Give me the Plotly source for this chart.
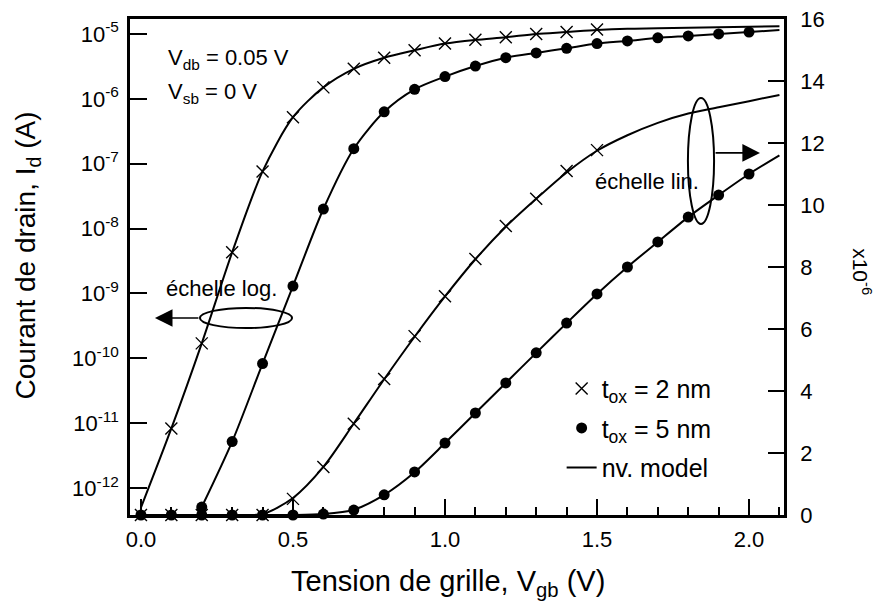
import plotly.graph_objects as go

# ---------------- data ----------------
# gate voltage (V)
vg_tox2_log = [0.1, 0.2, 0.3, 0.4, 0.5, 0.6, 0.7, 0.8, 0.9, 1.0, 1.1, 1.2, 1.3, 1.4, 1.5]
id_tox2_log = [8.3e-12, 1.7e-10, 4.3e-9, 7.6e-8, 5.2e-7, 1.5e-6, 2.9e-6, 4.3e-6, 5.6e-6,
               7.1e-6, 8.1e-6, 8.9e-6, 1.0e-5, 1.07e-5, 1.17e-5]

vg_tox5_log = [0.2, 0.3, 0.4, 0.5, 0.6, 0.7, 0.8, 0.9, 1.0, 1.1, 1.2, 1.3, 1.4, 1.5,
               1.6, 1.7, 1.8, 1.9, 2.0]
id_tox5_log = [5.1e-13, 5.2e-12, 8.3e-11, 1.3e-9, 2.0e-8, 1.7e-7, 6.3e-7, 1.4e-6, 2.2e-6,
               3.2e-6, 4.3e-6, 5.1e-6, 6.0e-6, 7.1e-6, 7.8e-6, 8.7e-6, 9.3e-6, 1.0e-5, 1.07e-5]

# linear scale, units of 1e-6 A
vg_tox2_lin = [0.0, 0.1, 0.2, 0.3, 0.4, 0.5, 0.6, 0.7, 0.8, 0.9, 1.0, 1.1, 1.2, 1.3, 1.4, 1.5]
id_tox2_lin = [0, 0, 0, 0, 0, 0.52, 1.55, 2.94, 4.39, 5.77, 7.06, 8.26, 9.32, 10.2, 11.1, 11.77]

vg_tox5_lin = [0.0, 0.1, 0.2, 0.3, 0.4, 0.5, 0.6, 0.7, 0.8, 0.9, 1.0, 1.1, 1.2, 1.3, 1.4,
               1.5, 1.6, 1.7, 1.8, 1.9, 2.0]
id_tox5_lin = [0, 0, 0, 0, 0, 0, 0.03, 0.16, 0.65, 1.39, 2.32, 3.29, 4.26, 5.23, 6.19,
               7.13, 8.0, 8.81, 9.61, 10.32, 11.0]

# new model curves
vg_model = [0.0, 0.1, 0.2, 0.3, 0.4, 0.5, 0.6, 0.7, 0.8, 0.9, 1.0, 1.1, 1.2, 1.3, 1.4,
            1.5, 1.6, 1.7, 1.8, 1.9, 2.0, 2.1]
model_tox2_log = [5.0e-13, 8.3e-12, 1.7e-10, 4.3e-9, 7.6e-8, 5.2e-7, 1.5e-6, 2.9e-6, 4.3e-6,
                  5.6e-6, 7.1e-6, 8.1e-6, 8.9e-6, 1.0e-5, 1.07e-5, 1.15e-5, 1.2e-5, 1.22e-5,
                  1.25e-5, 1.27e-5, 1.29e-5, 1.31e-5]
vg_model5_log = [0.2, 0.3, 0.4, 0.5, 0.6, 0.7, 0.8, 0.9, 1.0, 1.1, 1.2, 1.3, 1.4,
                 1.5, 1.6, 1.7, 1.8, 1.9, 2.0, 2.1]
model_tox5_log = [5.1e-13, 5.2e-12, 8.3e-11, 1.3e-9, 2.0e-8, 1.7e-7, 6.3e-7, 1.4e-6, 2.2e-6,
                  3.2e-6, 4.3e-6, 5.1e-6, 6.0e-6, 7.1e-6, 7.8e-6, 8.7e-6, 9.3e-6, 1.0e-5,
                  1.07e-5, 1.15e-5]
model_tox2_lin = [0, 0, 0, 0, 0.03, 0.55, 1.55, 2.95, 4.38, 5.75, 7.05, 8.25, 9.3, 10.2,
                  11.05, 11.75, 12.25, 12.65, 12.95, 13.15, 13.35, 13.55]
model_tox5_lin = [0, 0, 0, 0, 0, 0, 0.03, 0.17, 0.65, 1.38, 2.32, 3.29, 4.26, 5.23, 6.19,
                  7.13, 8.0, 8.81, 9.61, 10.32, 11.0, 11.6]

log_tickvals = [1e-12, 1e-11, 1e-10, 1e-9, 1e-8, 1e-7, 1e-6, 1e-5]
log_ticktext = ["10<sup>-12</sup>", "10<sup>-11</sup>", "10<sup>-10</sup>", "10<sup>-9</sup>",
                "10<sup>-8</sup>", "10<sup>-7</sup>", "10<sup>-6</sup>", "10<sup>-5</sup>"]

# ---------------- figure ----------------
FONT = "Liberation Sans, Arial, Helvetica, sans-serif"
fig = go.Figure()

line_style = dict(color="black", width=2, shape="spline", smoothing=0.8)
cross_marker = dict(symbol="x-thin", size=12, color="black", line=dict(color="black", width=1.4))
dot_marker = dict(symbol="circle", size=11, color="black", line=dict(width=0))

# model lines
fig.add_trace(go.Scatter(x=vg_model, y=model_tox2_log, mode="lines", line=line_style,
                         name="nv. model", legendgroup="c", legendrank=3, showlegend=True,
                         yaxis="y"))
fig.add_trace(go.Scatter(x=vg_model5_log, y=model_tox5_log, mode="lines", line=line_style,
                         showlegend=False, yaxis="y"))
fig.add_trace(go.Scatter(x=vg_model, y=model_tox2_lin, mode="lines", line=line_style,
                         showlegend=False, yaxis="y2"))
fig.add_trace(go.Scatter(x=vg_model, y=model_tox5_lin, mode="lines", line=line_style,
                         showlegend=False, yaxis="y2"))

# measured points
fig.add_trace(go.Scatter(x=vg_tox2_log, y=id_tox2_log, mode="markers", marker=cross_marker,
                         name="t<sub>ox</sub> = 2 nm", legendgroup="a", legendrank=1,
                         yaxis="y"))
fig.add_trace(go.Scatter(x=vg_tox5_log, y=id_tox5_log, mode="markers", marker=dot_marker,
                         name="t<sub>ox</sub> = 5 nm", legendgroup="b", legendrank=2,
                         yaxis="y"))
fig.add_trace(go.Scatter(x=vg_tox2_lin, y=id_tox2_lin, mode="markers", marker=cross_marker,
                         showlegend=False, yaxis="y2", cliponaxis=False))
fig.add_trace(go.Scatter(x=vg_tox5_lin, y=id_tox5_lin, mode="markers", marker=dot_marker,
                         showlegend=False, yaxis="y2", cliponaxis=False))

axis_common = dict(showline=True, linecolor="black", linewidth=2.5, showgrid=False,
                   zeroline=False, ticks="inside", tickcolor="black", tickwidth=2,
                   automargin=False,
                   tickfont=dict(family=FONT, size=22, color="black"))

fig.update_layout(
    template="none",
    width=879, height=604,
    margin=dict(l=130, r=95, t=19, b=89, autoexpand=False),
    paper_bgcolor="white", plot_bgcolor="white",
    font=dict(family=FONT, color="black"),
    xaxis=dict(range=[-0.036, 2.115], tickmode="linear", tick0=0, dtick=0.5,
               tickformat=".1f", ticklen=16, mirror=True, ticklabelstandoff=3,
               minor=dict(ticks="inside", dtick=0.1, tick0=0, ticklen=8, tickwidth=1.5,
                          tickcolor="black", showgrid=False),
               **axis_common),
    yaxis=dict(type="log", range=[-12.415, -4.77], tickvals=log_tickvals,
               ticktext=log_ticktext, ticklen=17, ticklabelstandoff=4, **axis_common),
    yaxis2=dict(overlaying="y", side="right", range=[0, 16], tickmode="linear", tick0=0,
                dtick=2, ticklen=16, ticklabelstandoff=9, **axis_common),
    legend=dict(x=0.66, y=0.301, xanchor="left", yanchor="top", bgcolor="rgba(0,0,0,0)",
                font=dict(family=FONT, size=25, color="black"), tracegroupgap=4,
                itemwidth=30, borderwidth=0),
    showlegend=True,
)

# axis titles
fig.add_annotation(text="Tension de grille, V<sub>gb</sub> (V)", xref="paper", yref="paper",
                   x=0.487, y=-0.137, xanchor="center", yanchor="middle", showarrow=False,
                   font=dict(family=FONT, size=29, color="black"))
fig.add_annotation(text="Courant de drain, I<sub>d</sub> (A)", xref="paper", yref="paper",
                   x=-0.157, y=0.524, xanchor="center", yanchor="middle", textangle=-90,
                   showarrow=False, font=dict(family=FONT, size=28, color="black"))
fig.add_annotation(text="x10<sup>-6</sup>", xref="paper", yref="paper",
                   x=1.119, y=0.49, xanchor="center", yanchor="middle", textangle=90,
                   showarrow=False, font=dict(family=FONT, size=21, color="black"))

# condition labels
fig.add_annotation(text="V<sub>db</sub> = 0.05 V", xref="paper", yref="paper",
                   x=0.055, y=0.919, xanchor="left", yanchor="middle", showarrow=False,
                   font=dict(family=FONT, size=22, color="black"))
fig.add_annotation(text="V<sub>sb</sub> = 0 V", xref="paper", yref="paper",
                   x=0.055, y=0.851, xanchor="left", yanchor="middle", showarrow=False,
                   font=dict(family=FONT, size=22, color="black"))

# scale callouts
fig.add_annotation(text="échelle log.", x=0.266, y=7.32, xref="x", yref="y2",
                   showarrow=False, font=dict(family=FONT, size=22, color="black"))
fig.add_shape(type="circle", xref="x", yref="y2", x0=0.194, x1=0.497, y0=6.03, y1=6.68,
              line=dict(color="black", width=2))
fig.add_annotation(x=0.046, y=6.355, ax=0.194, ay=6.355, xref="x", yref="y2",
                   axref="x", ayref="y2", text="", showarrow=True, arrowhead=2,
                   arrowsize=2.2, arrowwidth=1.6, arrowcolor="black")

fig.add_annotation(text="échelle lin.", x=1.664, y=10.77, xref="x", yref="y2",
                   showarrow=False, font=dict(family=FONT, size=22, color="black"))
fig.add_shape(type="circle", xref="x", yref="y2", x0=1.799, x1=1.885, y0=9.39, y1=13.45,
              line=dict(color="black", width=2))
fig.add_annotation(x=2.036, y=11.68, ax=1.885, ay=11.68, xref="x", yref="y2",
                   axref="x", ayref="y2", text="", showarrow=True, arrowhead=2,
                   arrowsize=2.2, arrowwidth=1.6, arrowcolor="black")

fig.write_html("out.html", config={"displayModeBar": False},
               post_script="document.body.style.margin='0';")
